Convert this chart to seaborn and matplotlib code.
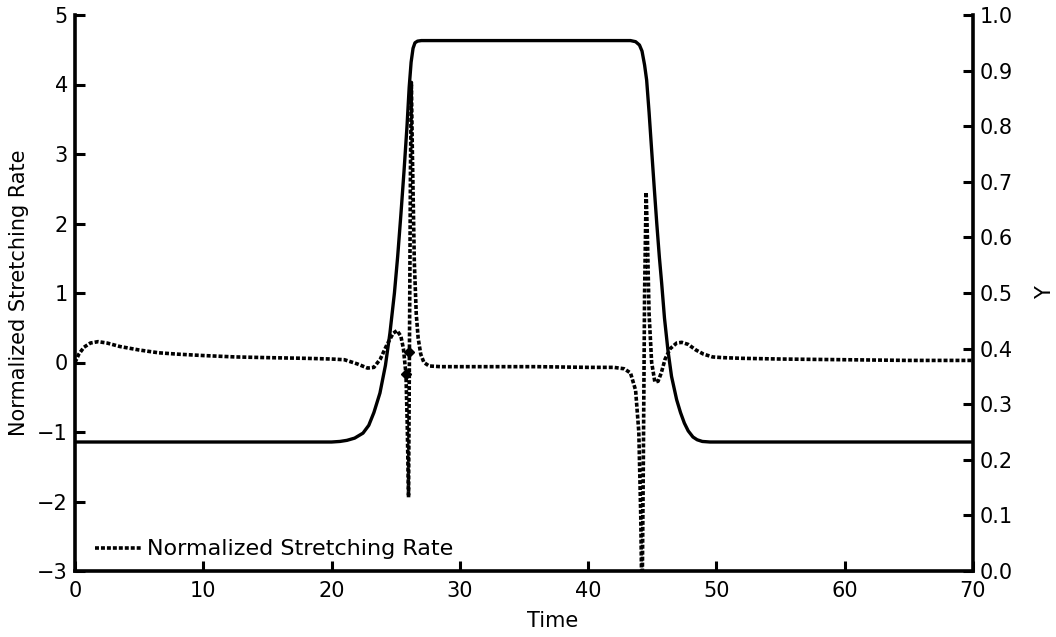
import matplotlib
matplotlib.use("Agg")
import matplotlib.pyplot as plt
import seaborn as sns
import pandas as pd

# Normalized stretching rate (left axis)
rate_t = [0, 0.3, 0.7, 1.2, 1.8, 2.5, 3.5, 5, 6.5, 8, 10, 12.5, 15, 18, 20, 21, 22, 22.8,
          23.3, 23.8, 24.3, 24.8, 25.1, 25.4, 25.6, 25.8, 25.9, 26.0, 26.07, 26.15, 26.22,
          26.3, 26.45, 26.6, 26.75, 26.95, 27.2, 27.6, 28.5, 32, 36, 40, 42, 42.8, 43.3,
          43.7, 43.95, 44.1, 44.2, 44.3, 44.4, 44.52, 44.62, 44.75, 44.95, 45.2, 45.45,
          45.7, 46.0, 46.4, 46.9, 47.3, 47.8, 48.4, 49, 49.7, 50.5, 52, 55, 60, 65, 70]
rate_v = [0.0, 0.12, 0.22, 0.28, 0.30, 0.28, 0.23, 0.18, 0.14, 0.12, 0.10, 0.08, 0.07, 0.06,
          0.05, 0.04, -0.02, -0.08, -0.07, 0.05, 0.25, 0.42, 0.46, 0.38, 0.20, -0.17, -0.9,
          -1.94, 0.15, 2.8, 4.03, 3.0, 1.45, 0.7, 0.35, 0.12, 0.0, -0.05, -0.06, -0.06, -0.06,
          -0.07, -0.07, -0.09, -0.15, -0.4, -1.0, -2.2, -3.6, -1.5, 1.0, 2.45, 1.8, 0.7, 0.0,
          -0.28, -0.27, -0.15, 0.05, 0.2, 0.28, 0.29, 0.26, 0.18, 0.12, 0.08, 0.07, 0.06,
          0.05, 0.04, 0.03, 0.03]

# Marked points on the stretching-rate curve
mark_t = [25.8, 26.07]
mark_v = [-0.17, 0.15]

# Y (right axis)
y_t = [0, 5, 10, 15, 20, 20.65, 21.2, 21.8, 22.45, 22.9, 23.3, 23.77, 24.2, 24.55, 24.9,
       25.15, 25.4, 25.65, 25.88, 26.05, 26.2, 26.35, 26.5, 26.7, 27.0, 30, 35, 40, 43.3,
       43.7, 44.0, 44.2, 44.4, 44.56, 44.75, 44.95, 45.15, 45.35, 45.55, 45.73, 45.95,
       46.22, 46.5, 46.9, 47.2, 47.5, 47.8, 48.17, 48.5, 48.9, 49.5, 52, 60, 70]
y_v = [0.232, 0.232, 0.232, 0.232, 0.232, 0.233, 0.235, 0.239, 0.248, 0.262, 0.285, 0.32,
       0.37, 0.428, 0.50, 0.565, 0.64, 0.72, 0.80, 0.87, 0.915, 0.94, 0.95, 0.953, 0.954,
       0.954, 0.954, 0.954, 0.954, 0.952, 0.946, 0.935, 0.91, 0.883, 0.825, 0.757, 0.69,
       0.625, 0.565, 0.518, 0.455, 0.397, 0.35, 0.308, 0.285, 0.266, 0.252, 0.241, 0.236,
       0.233, 0.232, 0.232, 0.232, 0.232]

x_ticks = [0, 10, 20, 30, 40, 50, 60, 70]
left_ticks = [-3, -2, -1, 0, 1, 2, 3, 4, 5]
right_ticks = [0.0, 0.1, 0.2, 0.3, 0.4, 0.5, 0.6, 0.7, 0.8, 0.9, 1.0]

sns.set_theme(style="ticks")
plt.rcParams['font.family'] = ['DejaVu Sans']
plt.rcParams['axes.unicode_minus'] = True
plt.rcParams['text.color'] = 'black'
plt.rcParams['axes.labelcolor'] = 'black'

fig = plt.figure(figsize=(10.56, 6.37), dpi=100)
W, H = 1056, 637
ax = fig.add_axes([75 / W, 1 - 571 / H, (973 - 75) / W, (571 - 15) / H])
ax2 = ax.twinx()

rate_df = pd.DataFrame({"Time": rate_t, "Rate": rate_v})
y_df = pd.DataFrame({"Time": y_t, "Y": y_v})

sns.lineplot(data=rate_df, x="Time", y="Rate", ax=ax, color="black", linewidth=2.6,
             linestyle=(0, (1.1, 0.55)), label="Normalized Stretching Rate")
ax.plot(mark_t, mark_v, linestyle="none", marker="D", color="black", markersize=5.5)
sns.lineplot(data=y_df, x="Time", y="Y", ax=ax2, color="black", linewidth=2.4, legend=False)

ax.set_xlim(0, 70)
ax.set_ylim(-3, 5)
ax2.set_ylim(0, 1.0)
ax.set_xticks(x_ticks)
ax.set_yticks(left_ticks)
ax2.set_yticks(right_ticks)
ax2.set_yticklabels([f"{v:.1f}" for v in right_ticks])

fs = 15
ax.set_xlabel("Time", fontsize=fs, color='black')
ax.set_ylabel("Normalized Stretching Rate", fontsize=fs, color='black')
ax2.set_ylabel("Y", fontsize=fs, color='black', rotation=90)

for a in (ax, ax2):
    a.spines['top'].set_visible(False)
    for s in ('left', 'right', 'bottom'):
        a.spines[s].set_linewidth(2.6)
        a.spines[s].set_color('black')
    a.tick_params(direction='in', length=7, width=2.2, labelsize=fs, colors='black', pad=5)
ax.spines['right'].set_visible(False)
ax2.spines['left'].set_visible(False)
ax2.spines['bottom'].set_visible(False)
ax.tick_params(axis='x', pad=7)

# label positions (axes fraction)
ax.xaxis.set_label_coords((553 - 75) / 898, (571 - 611) / 556)
ax.yaxis.set_label_coords((29 - 75) / 898, 0.5)
ax2.yaxis.set_label_coords((1035 - 75) / 898, 0.5)

leg = ax.legend(loc="lower left", frameon=False, fontsize=fs + 1, handlelength=2.1,
                handletextpad=0.25, borderaxespad=0.0,
                bbox_to_anchor=((86 - 75) / 898, 0.005))

ax.set_zorder(ax2.get_zorder() + 1)
ax.patch.set_visible(False)

fig.savefig("out.png", dpi=100)
